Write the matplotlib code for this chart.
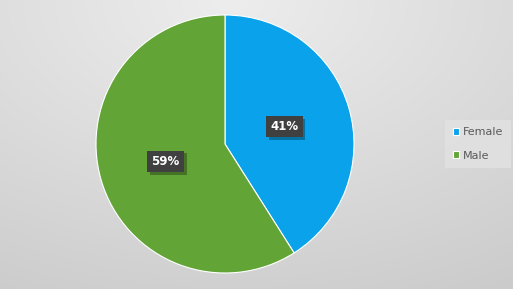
import numpy as np
import matplotlib
matplotlib.use("Agg")
import matplotlib.pyplot as plt
import matplotlib.patheffects as pe

labels = ["Female", "Male"]
shares = [41, 59]
colors = ["#0aa2ea", "#62a536"]

W, H = 513, 289
fig = plt.figure(figsize=(W / 100, H / 100), dpi=100)

# background gradient (light top centre, darker corners)
bg = fig.add_axes([0, 0, 1, 1])
yy, xx = np.mgrid[0:1:200j, 0:1:300j]
d = np.sqrt(((xx - 0.45) * 1.0) ** 2 + (yy * 0.9) ** 2)
shade = 0.93 - 0.14 * np.clip(d / 1.1, 0, 1)
bg.imshow(np.dstack([shade] * 3), aspect="auto", extent=[0, 1, 1, 0])
bg.set_axis_off()

# pie
cx, cy, r = 225, 144, 129
ax = fig.add_axes([(cx - r) / W, (H - cy - r) / H, 2 * r / W, 2 * r / H])
wedges, texts, autotexts = ax.pie(
    shares, colors=colors, startangle=90, counterclock=False,
    autopct=lambda p: "%d%%" % round(p), pctdistance=0.48, radius=1,
    wedgeprops=dict(linewidth=0.8, edgecolor="white"))
ax.set_aspect("equal")
ax.set_xlim(-1, 1)
ax.set_ylim(-1, 1)

for t in autotexts:
    t.set_color("white")
    t.set_fontweight("bold")
    t.set_fontsize(8.5)
    t.set_bbox(dict(boxstyle="square,pad=0.35", facecolor="#404040", edgecolor="none"))
    t.get_bbox_patch().set_path_effects(
        [pe.SimplePatchShadow(offset=(2, -2), shadow_rgbFace="black", alpha=0.3), pe.Normal()])

leg = fig.legend(wedges, labels, loc="center left", bbox_to_anchor=(445 / W, 1 - 144 / H),
                 frameon=True, fontsize=8, handlelength=0.6, handleheight=0.6,
                 handletextpad=0.3, labelspacing=1.2, borderpad=0.7, borderaxespad=0,
                 fancybox=False)
leg.get_frame().set_facecolor("#e2e2e2")
leg.get_frame().set_edgecolor("none")
for t in leg.get_texts():
    t.set_color("#595959")

fig.savefig("out.png", dpi=100)
